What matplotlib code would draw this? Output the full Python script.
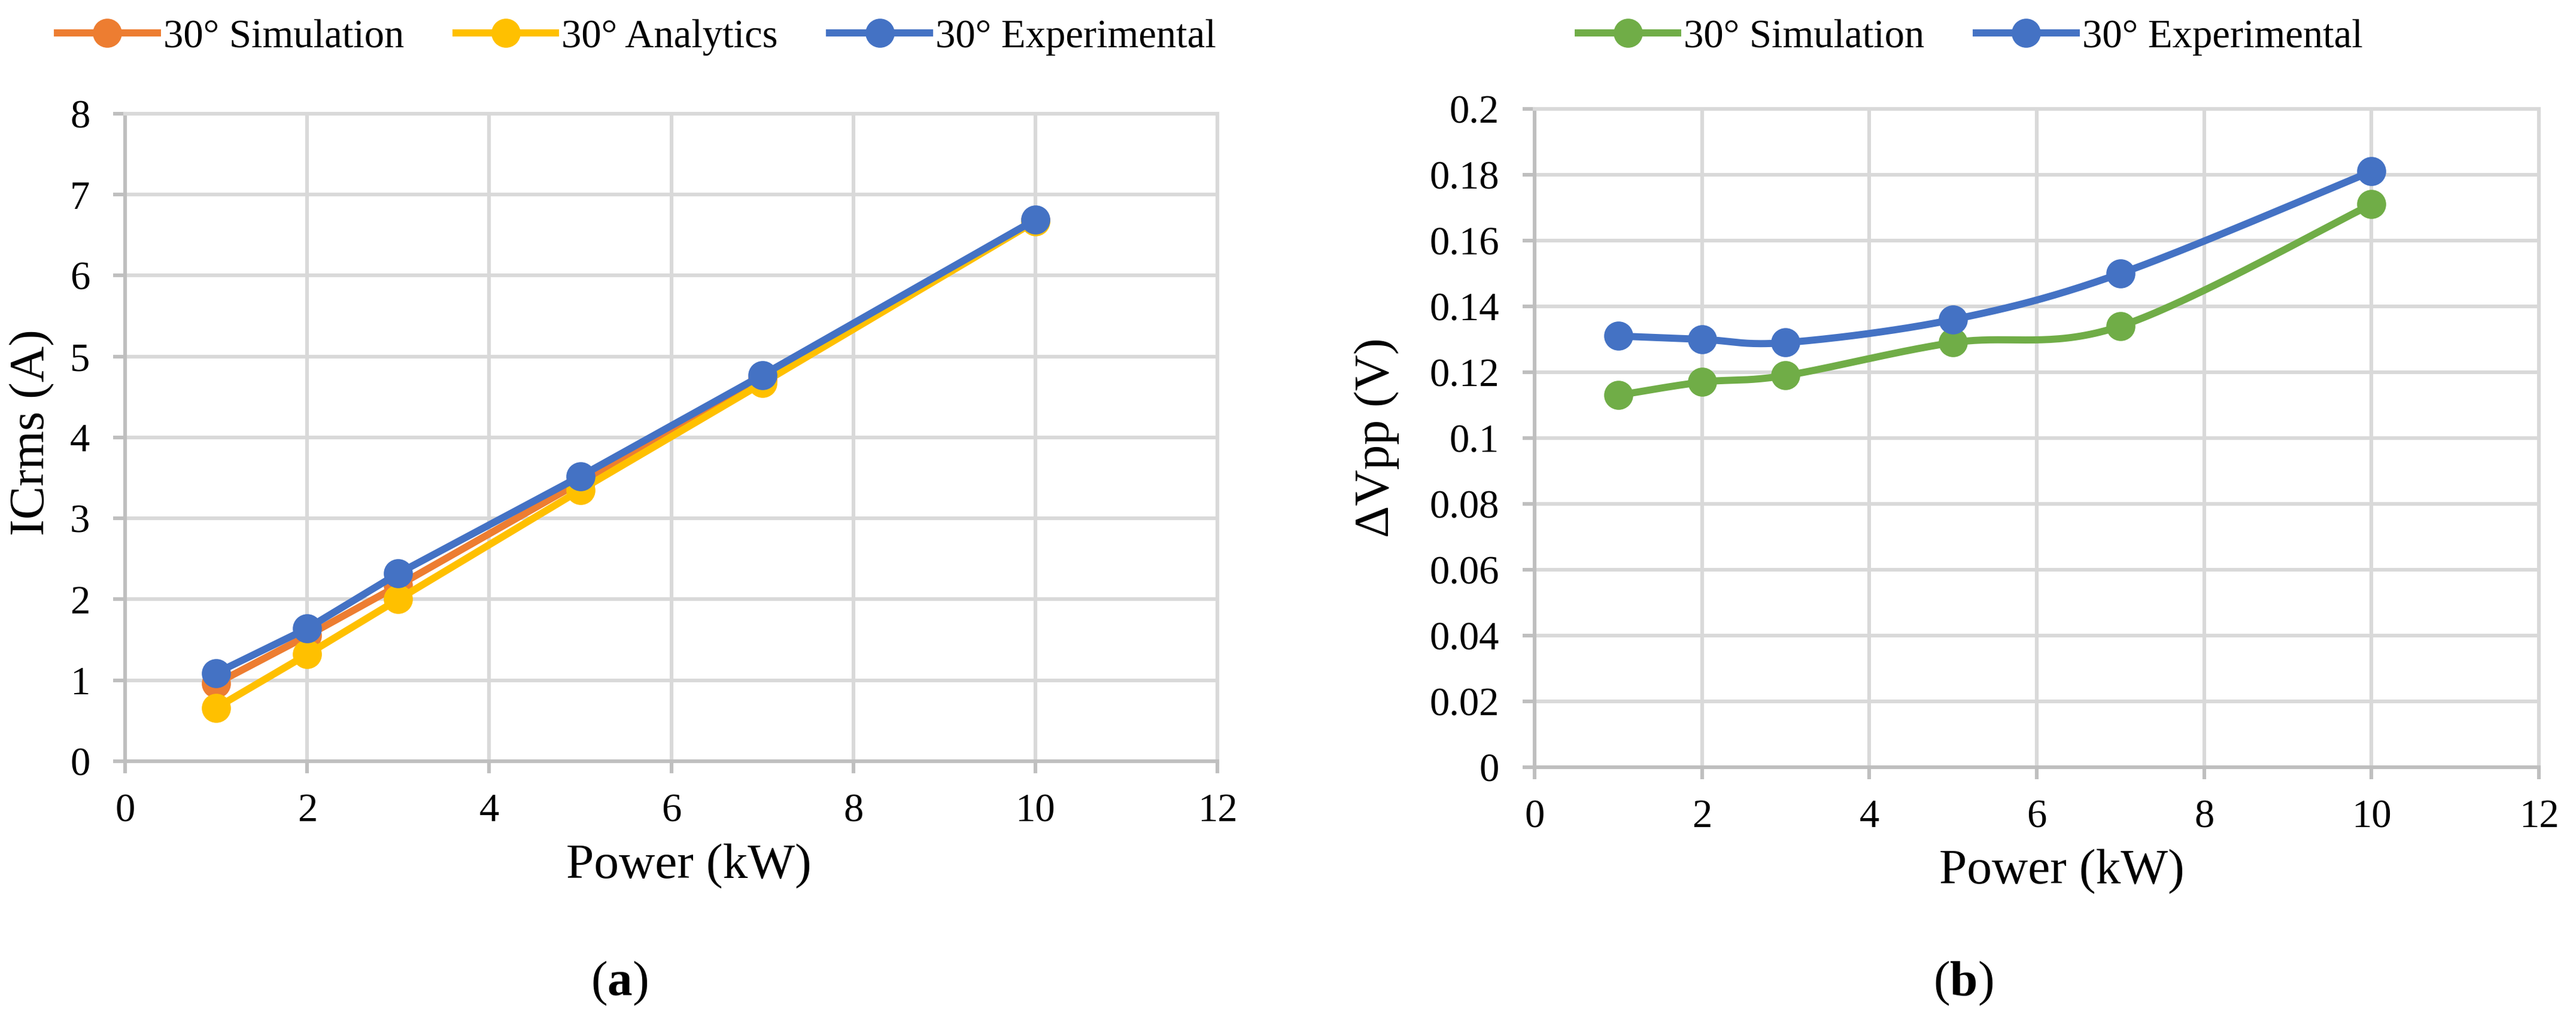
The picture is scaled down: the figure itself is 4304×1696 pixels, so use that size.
import numpy as np
import matplotlib.pyplot as plt
from matplotlib.ticker import FuncFormatter

plt.rcParams['font.family'] = ['Liberation Serif', 'DejaVu Serif']
plt.rcParams['mathtext.fontset'] = 'custom'
plt.rcParams['mathtext.rm'] = 'Liberation Serif'
plt.rcParams['mathtext.bf'] = 'Liberation Serif:bold'

# data
power = [1, 2, 3, 5, 7, 10]
icrms_sim = [0.96, 1.55, 2.17, 3.45, 4.72, 6.68]
icrms_ana = [0.66, 1.32, 2.00, 3.35, 4.67, 6.67]
icrms_exp = [1.09, 1.64, 2.32, 3.52, 4.77, 6.69]
dvpp_sim = [0.113, 0.117, 0.119, 0.129, 0.134, 0.171]
dvpp_exp = [0.131, 0.130, 0.129, 0.136, 0.150, 0.181]

ORANGE = '#ED7D31'
YELLOW = '#FFC000'
BLUE = '#4472C4'
GREEN = '#70AD47'
GRID = '#D9D9D9'
AXIS = '#BFBFBF'

LW = 4.3
MS = 16.5
TICK_FS = 24
LABEL_FS = 30


def smooth(xs, ys, n=40):
    # excel-like smoothed line: cubic bezier through the points
    p = np.column_stack([xs, ys]).astype(float)
    ext = np.vstack([p[0], p, p[-1]])
    out = []
    t = np.linspace(0, 1, n)[:, None]
    for i in range(len(p) - 1):
        p0, p3 = ext[i + 1], ext[i + 2]
        c1 = p0 + (ext[i + 2] - ext[i]) / 6
        c2 = p3 - (ext[i + 3] - ext[i + 1]) / 6
        seg = (1 - t) ** 3 * p0 + 3 * (1 - t) ** 2 * t * c1 + 3 * (1 - t) * t ** 2 * c2 + t ** 3 * p3
        out.append(seg if i == 0 else seg[1:])
    out = np.vstack(out)
    return out[:, 0], out[:, 1]


def style_axes(ax, ymax, ystep):
    ax.set_xlim(0, 12)
    ax.set_ylim(0, ymax)
    ax.set_xticks(np.arange(0, 13, 2))
    ax.set_yticks(np.arange(0, ymax + ystep / 2, ystep))
    ax.yaxis.set_major_formatter(FuncFormatter(lambda v, _: '%g' % round(v, 4)))
    ax.grid(True, color=GRID, linewidth=2.2)
    ax.set_axisbelow(True)
    for s in ['top', 'right']:
        ax.spines[s].set_color(GRID)
        ax.spines[s].set_linewidth(2.2)
    for s in ['left', 'bottom']:
        ax.spines[s].set_color(AXIS)
        ax.spines[s].set_linewidth(2.2)
    ax.tick_params(axis='both', direction='out', length=7.2, width=2.2, color=AXIS,
                   labelsize=TICK_FS)
    ax.tick_params(axis='y', pad=14)
    ax.tick_params(axis='x', pad=12)


fig = plt.figure(figsize=(21.52, 8.48), dpi=200)
ax1 = fig.add_axes([0.0486, 0.250, 0.4240, 0.638])
ax2 = fig.add_axes([0.5957, 0.2441, 0.3899, 0.6486])

# (a)
style_axes(ax1, 8, 1)
h1, = ax1.plot(power, icrms_sim, color=ORANGE, lw=LW, marker='o', ms=MS, label='30° Simulation')
h2, = ax1.plot(power, icrms_ana, color=YELLOW, lw=LW, marker='o', ms=MS, label='30° Analytics')
h3, = ax1.plot(power, icrms_exp, color=BLUE, lw=LW, marker='o', ms=MS, label='30° Experimental')

# (b)
style_axes(ax2, 0.2, 0.02)
sx, sy = smooth(power, dvpp_sim)
ax2.plot(sx, sy, color=GREEN, lw=LW)
g1, = ax2.plot(power, dvpp_sim, color=GREEN, lw=LW, ls='none', marker='o', ms=MS)
ex, ey = smooth(power, dvpp_exp)
ax2.plot(ex, ey, color=BLUE, lw=LW)
g2, = ax2.plot(power, dvpp_exp, color=BLUE, lw=LW, ls='none', marker='o', ms=MS)

leg_kw = dict(ncol=3, frameon=False, fontsize=24, handlelength=2.5, handletextpad=0.15,
              columnspacing=1.3, loc='center')
fig.legend([h1, h2, h3], ['30° Simulation', '30° Analytics', '30° Experimental'],
           bbox_to_anchor=(0.2472, 0.9634), **leg_kw)
lb = plt.Line2D([], [], color=GREEN, lw=LW, marker='o', ms=MS)
lb2 = plt.Line2D([], [], color=BLUE, lw=LW, marker='o', ms=MS)
leg_kw['ncol'] = 2
fig.legend([lb, lb2], ['30° Simulation', '30° Experimental'],
           bbox_to_anchor=(0.7649, 0.9634), **leg_kw)

# axis labels
fig.text(0.0125, 0.574, 'ICrms (A)', rotation=90, ha='center', va='center', fontsize=LABEL_FS)
fig.text(0.5344, 0.569, 'ΔVpp (V)', rotation=90, ha='center', va='center', fontsize=LABEL_FS)
fig.text(0.2674, 1 - 1467 / 1696, 'Power (kW)', ha='center', va='baseline', fontsize=LABEL_FS)
fig.text(0.8004, 1 - 1476 / 1696, 'Power (kW)', ha='center', va='baseline', fontsize=LABEL_FS)

# panel captions
fig.text(1035 / 4304, 1 - 1643 / 1696, r'($\mathbf{a}$)', ha='center', va='center', fontsize=LABEL_FS)
fig.text(3280 / 4304, 1 - 1643 / 1696, r'($\mathbf{b}$)', ha='center', va='center', fontsize=LABEL_FS)

fig.savefig('out.png', dpi=200, facecolor='white')
